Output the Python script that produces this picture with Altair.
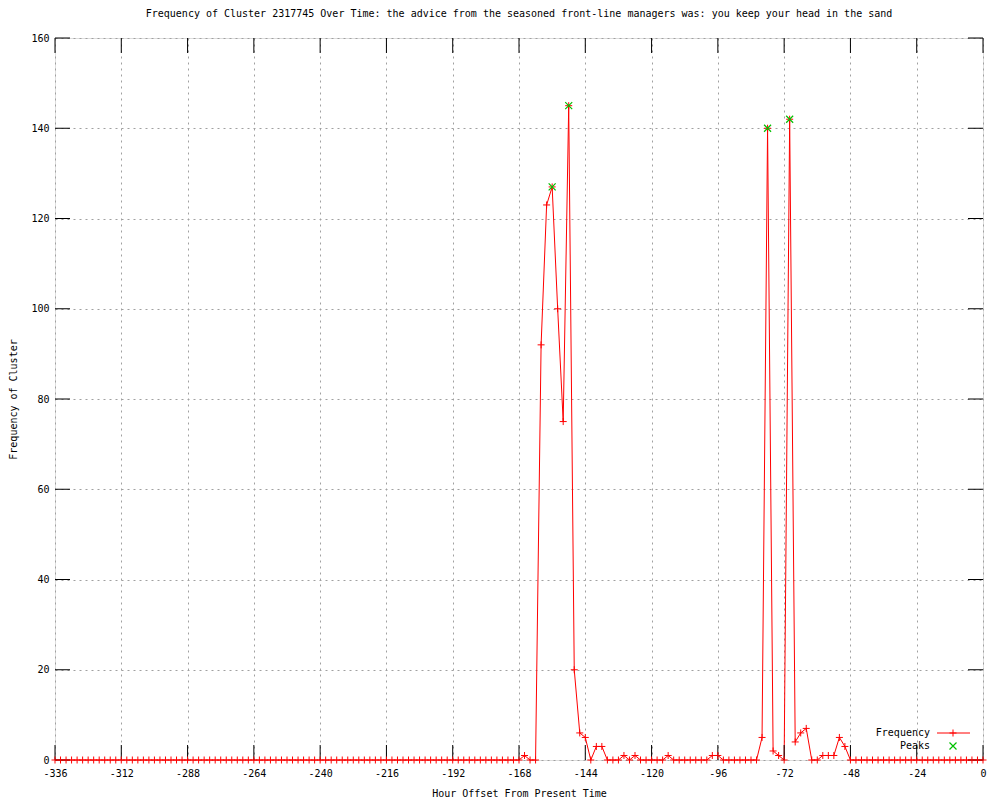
import altair as alt
import pandas as pd

# ---- data ----
hours = list(range(-336, 1, 2))  # sampling grid, one sample every 2 hours

freq_left = [0, 0, 0, 0, 0, 0, 0, 0, 0, 0, 0, 0, 0, 0, 0, 0, 0,
             0, 0, 0, 0, 0, 0, 0, 0, 0, 0, 0, 0, 0, 0, 0, 0, 0,
             0, 0, 0, 0, 0, 0, 0, 0, 0, 0, 0, 0, 0, 0, 0, 0, 0,
             0, 0, 0, 0, 0, 0, 0, 0, 0, 0, 0, 0, 0, 0, 0, 0, 0,
             0, 0, 0, 0, 0, 0, 0, 0, 0, 0, 0, 0, 0, 0, 0, 0, 0]  # -336 .. -168
freq_mid = [1, 0, 0, 92, 123, 127, 100, 75, 145, 20,
            6, 5, 0, 3, 3, 0, 0, 0, 1, 0,
            1, 0, 0, 0, 0, 0, 1, 0, 0, 0,
            0, 0, 0, 0, 1, 1, 0, 0, 0, 0,
            0, 0, 0, 5, 140, 2, 1, 0, 142, 4,
            6, 7, 0, 0, 1, 1, 1, 5, 3]  # -166 .. -50
freq_right = [0, 0, 0, 0, 0, 0, 0, 0, 0, 0, 0, 0, 0,
              0, 0, 0, 0, 0, 0, 0, 0, 0, 0, 0, 0]  # -48 .. 0
frequency = freq_left + freq_mid + freq_right

peak_hours = [-156, -150, -78, -70]
peak_values = [127, 145, 140, 142]

x_tick_values = [-336, -312, -288, -264, -240, -216, -192, -168, -144,
                 -120, -96, -72, -48, -24, 0]
y_tick_values = [0, 20, 40, 60, 80, 100, 120, 140, 160]

legend_labels = ["Frequency", "Peaks"]

TITLE = ("Frequency of Cluster 2317745 Over Time: the advice from the seasoned "
         "front-line managers was: you keep your head in the sand")

# ---- layout / style ----
W, H = 928, 722
FONT = "DejaVu Sans Mono"
TICK = 15
RED = "#ff0000"
GREEN = "#00c000"
PLUS = "M-1,0L1,0M0,-1L0,1"
CROSS = "M-1,-1L1,1M-1,1L1,-1"

df = pd.DataFrame({"hour": hours, "freq": frequency})
peaks = pd.DataFrame({"hour": peak_hours, "freq": peak_values})
xt = pd.DataFrame({"hour": x_tick_values})
yt = pd.DataFrame({"freq": y_tick_values})

xscale = alt.Scale(domain=[-336, 0], nice=False, zero=False)
yscale = alt.Scale(domain=[0, 160], nice=False)

x_axis = alt.Axis(
    values=x_tick_values, title="Hour Offset From Present Time",
    labelExpr="'' + datum.value", labelPadding=8, ticks=False, domain=False,
    labelFlush=False, labelOverlap=False,
    grid=True, gridDash=[2, 4], gridColor="#a0a0a0", gridOpacity=1,
    labelFont=FONT, labelFontSize=10, labelColor="black",
    titleFont=FONT, titleFontSize=10, titleFontWeight="normal", titleColor="black",
    titleY=33, titleBaseline="middle",
)
y_axis = alt.Axis(
    values=y_tick_values, title="Frequency of Cluster",
    labelPadding=6, ticks=False, domain=False,
    labelFlush=False, labelOverlap=False,
    grid=True, gridDash=[2, 4], gridColor="#a0a0a0", gridOpacity=1,
    labelFont=FONT, labelFontSize=10, labelColor="black",
    titleFont=FONT, titleFontSize=10, titleFontWeight="normal", titleColor="black",
    titleX=-42, titleY=H / 2, titleAngle=270, titleBaseline="middle", titleAlign="center",
)

X = alt.X("hour:Q", scale=xscale, axis=x_axis)
Y = alt.Y("freq:Q", scale=yscale, axis=y_axis)

line = alt.Chart(df).mark_line(color=RED, strokeWidth=1, clip=False).encode(x=X, y=Y)
pts = alt.Chart(df).mark_point(shape=PLUS, color=RED, size=49, strokeWidth=1,
                               filled=False, opacity=1, clip=False).encode(x=X, y=Y)
pk = alt.Chart(peaks).mark_point(shape=CROSS, color=GREEN, size=49, strokeWidth=1.2,
                                 filled=False, opacity=1).encode(x=X, y=Y)

xb = alt.Chart(xt).mark_rule(color="black", strokeWidth=1).encode(
    x=X, y=alt.value(H), y2=alt.value(H - TICK))
xtop = alt.Chart(xt).mark_rule(color="black", strokeWidth=1).encode(
    x=X, y=alt.value(0), y2=alt.value(TICK))
yl = alt.Chart(yt).mark_rule(color="black", strokeWidth=1).encode(
    y=Y, x=alt.value(0), x2=alt.value(TICK))
yr = alt.Chart(yt).mark_rule(color="black", strokeWidth=1).encode(
    y=Y, x=alt.value(W), x2=alt.value(W - TICK))

# ---- legend (gnuplot style: text right-aligned, sample on the right) ----
lg1 = pd.DataFrame({"label": [legend_labels[0]]})
lg2 = pd.DataFrame({"label": [legend_labels[1]]})
txt1 = alt.Chart(lg1).mark_text(font=FONT, fontSize=10, align="right", baseline="middle",
                                color="black").encode(
    text="label:N", x=alt.value(875), y=alt.value(695))
txt2 = alt.Chart(lg2).mark_text(font=FONT, fontSize=10, align="right", baseline="middle",
                                color="black").encode(
    text="label:N", x=alt.value(875), y=alt.value(708))
lgline = alt.Chart(lg1).mark_rule(color=RED, strokeWidth=1).encode(
    x=alt.value(882), x2=alt.value(915), y=alt.value(695))
lgplus = alt.Chart(lg1).mark_point(shape=PLUS, color=RED, size=49, strokeWidth=1,
                                   filled=False, opacity=1).encode(
    x=alt.value(898), y=alt.value(695))
lgx = alt.Chart(lg2).mark_point(shape=CROSS, color=GREEN, size=49, strokeWidth=1.2,
                                filled=False, opacity=1).encode(
    x=alt.value(898), y=alt.value(708))

chart = alt.layer(
    line, xb, xtop, yl, yr, pts, pk, txt1, txt2, lgline, lgplus, lgx
).properties(
    width=W, height=H,
    title=alt.TitleParams(TITLE, font=FONT, fontSize=10, fontWeight="normal",
                          color="black", anchor="middle", offset=14),
    autosize=alt.AutoSizeParams(type="none"),
    padding={"left": 47, "top": 30, "right": 9, "bottom": 38},
).configure_view(
    stroke="black", strokeWidth=1, fill="white"
).configure(background="white")

chart.save("out.html", embed_options={"renderer": "svg", "actions": False})
